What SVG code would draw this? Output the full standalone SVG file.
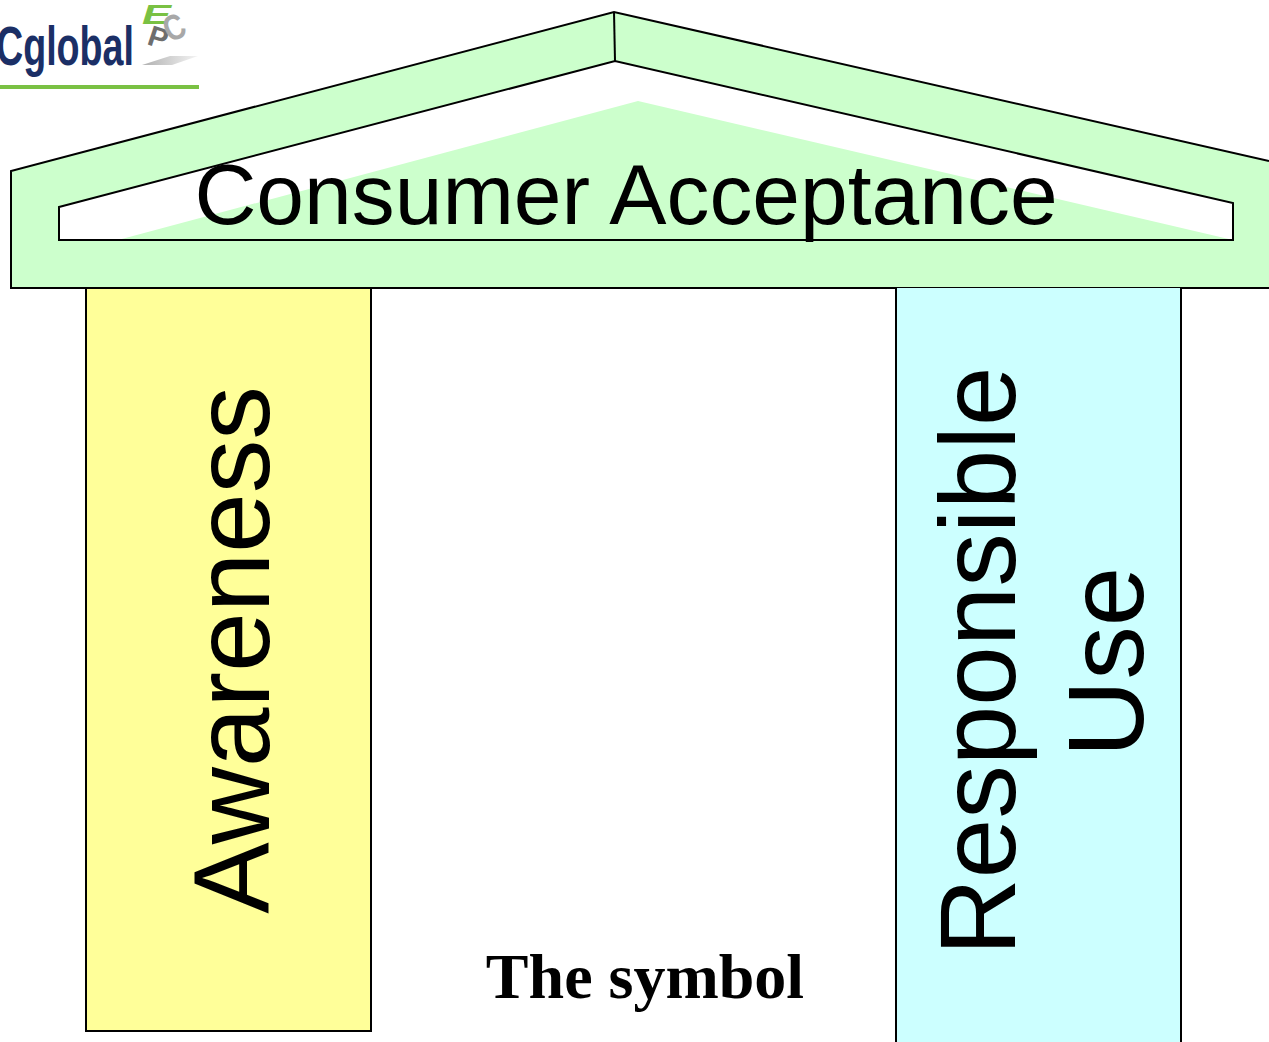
<svg xmlns="http://www.w3.org/2000/svg" width="1269" height="1042" viewBox="0 0 1269 1042">
<defs>
<linearGradient id="sh" x1="0" y1="0" x2="1" y2="0"><stop offset="0" stop-color="#b0b0b0"/><stop offset="1" stop-color="#f4f4f4"/></linearGradient>
</defs>
<style>
.ln{stroke:#000;stroke-width:2;fill:none;stroke-linejoin:miter}
.g{fill:#ccffcc}
.t{font-family:"Liberation Sans",Arial,sans-serif;fill:#000}
.logo{font-family:"Liberation Sans",Arial,sans-serif;font-weight:bold;fill:#1b2f66}
.lm{font-family:"Liberation Sans",Arial,sans-serif;font-weight:bold}
</style>
<rect width="1269" height="1042" fill="#fff"/>
<g id="logo">
<text class="logo" x="-4" y="65" font-size="55" textLength="138" lengthAdjust="spacingAndGlyphs">Cglobal</text>
<text class="lm" font-size="30" font-style="italic" fill="#7ac143" transform="translate(142 24) scale(1.45 .95)">E</text>
<text class="lm" font-size="29" fill="#6e6e6e" transform="translate(146 44) rotate(18)">P</text>
<text class="lm" font-size="36" fill="#a8a8a8" transform="translate(170 43) rotate(-25) scale(.8 1)">C</text>
<path d="M142 65 L170 56 L198 56 L172 65Z" fill="url(#sh)"/>
<rect x="0" y="85" width="199" height="4" fill="#7ac143"/>
</g>
<g id="roof">
<path class="g" d="M11 171 L614 12 L1269 161 V288 H11Z"/>
<path d="M59 207 L615 61 L1233 203 V240 H59Z" fill="#fff"/>
<path class="g" d="M118 240 L638 101 L1233 240Z"/>
<path class="ln" d="M1269 161 L614 12 L11 171 V288 H1269"/>
<path class="ln" d="M59 207 L615 61 L1233 203 V240 H59Z"/>
<path class="ln" d="M614 12 L615 61"/>
<text class="t" x="626" y="224" font-size="85.8" text-anchor="middle">Consumer Acceptance</text>
</g>
<g id="awareness">
<rect x="86" y="288" width="285" height="743" fill="#ffff99" stroke="#000" stroke-width="2"/>
<text class="t" font-size="107" text-anchor="middle" transform="translate(269 650) rotate(-90)">Awareness</text>
</g>
<g id="responsible-use">
<path d="M896 288 H1181 V1042 H896Z" fill="#ccffff"/>
<path class="ln" d="M896 1042 V288 M1181 288 V1042"/>
<text class="t" font-size="107" text-anchor="middle" transform="translate(1015 661) rotate(-90)">Responsible</text>
<text class="t" font-size="107" text-anchor="middle" transform="translate(1143 662) rotate(-90)">Use</text>
</g>
<g id="caption">
<text x="645" y="998" font-family="Liberation Serif,Times New Roman,serif" font-weight="bold" font-size="64" text-anchor="middle" fill="#000">The symbol</text>
</g>
</svg>
